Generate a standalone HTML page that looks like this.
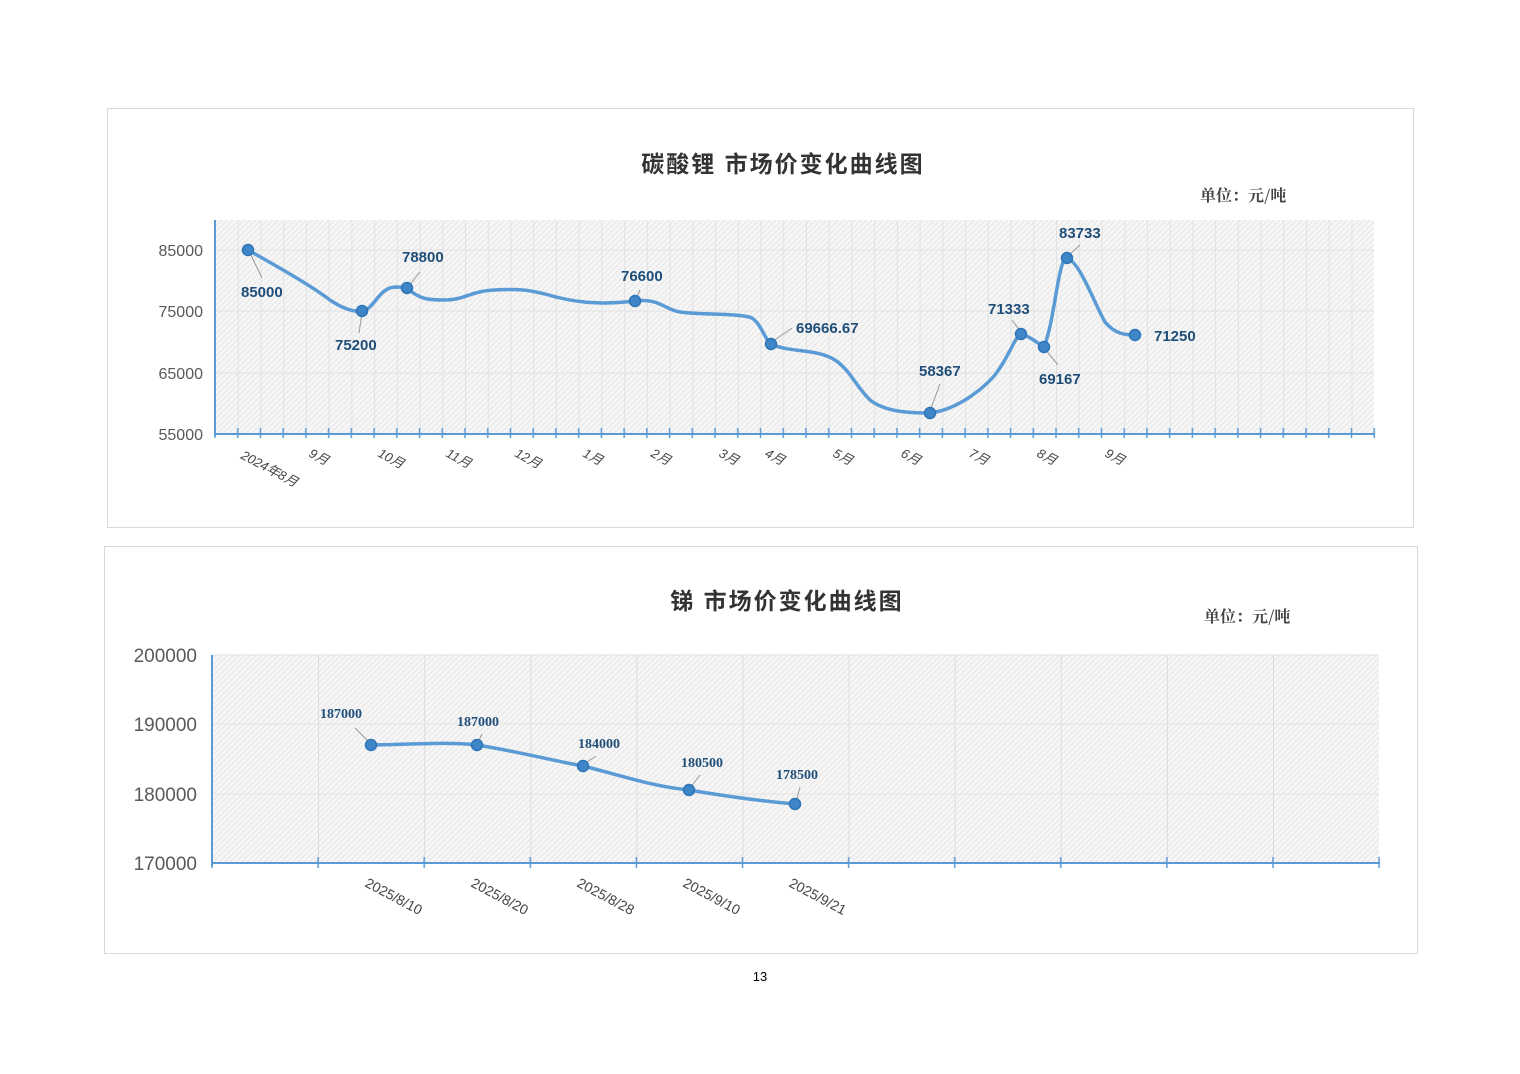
<!DOCTYPE html>
<html><head><meta charset="utf-8"><style>
html,body{margin:0;padding:0;background:#fff;}
svg{display:block;font-family:"Liberation Sans","Noto Sans CJK SC",sans-serif;}
</style></head><body>
<svg width="1520" height="1074" viewBox="0 0 1520 1074" xmlns="http://www.w3.org/2000/svg">
<defs>
<pattern id="hatch" patternUnits="userSpaceOnUse" width="4" height="4" patternTransform="rotate(45)">
<rect width="4" height="4" fill="#f6f6f6"/><line x1="0" y1="0" x2="0" y2="4" stroke="#dedede" stroke-width="1.3"/>
</pattern>
<pattern id="vg1" patternUnits="userSpaceOnUse" x="215" y="0" width="22.73" height="1074">
<line x1="0.5" y1="0" x2="0.5" y2="1074" stroke="#e2e2e2" stroke-width="1"/>
</pattern>
<pattern id="tk1" patternUnits="userSpaceOnUse" x="214" y="0" width="22.73" height="1074">
<line x1="1" y1="0" x2="1" y2="1074" stroke="#5b9bd5" stroke-width="1.5"/>
</pattern>
<pattern id="vg2" patternUnits="userSpaceOnUse" x="212" y="0" width="106.1" height="1074">
<line x1="0.5" y1="0" x2="0.5" y2="1074" stroke="#dcdcdc" stroke-width="1"/>
</pattern>
<pattern id="tk2" patternUnits="userSpaceOnUse" x="211" y="0" width="106.1" height="1074">
<line x1="1" y1="0" x2="1" y2="1074" stroke="#5b9bd5" stroke-width="1.5"/>
</pattern>
</defs>

<!-- Chart 1 -->
<rect x="107.5" y="108.5" width="1306" height="419" fill="#fff" stroke="#d9d9d9"/>
<text x="783" y="172" font-size="23" font-weight="bold" text-anchor="middle" fill="#333" letter-spacing="2">碳酸锂 市场价变化曲线图</text>
<text x="1200" y="201" font-size="16" font-weight="bold" fill="#444" font-family="'Noto Serif CJK SC',serif">单位：元/吨</text>
<rect x="215" y="220" width="1159" height="214" fill="url(#hatch)"/>
<rect x="215" y="220" width="1159" height="214" fill="url(#vg1)"/>
<g stroke="#e3e3e3" stroke-width="1">
<line x1="215" y1="250" x2="1374" y2="250"/><line x1="215" y1="311" x2="1374" y2="311"/><line x1="215" y1="373" x2="1374" y2="373"/>
</g>
<line x1="215" y1="220" x2="215" y2="436" stroke="#5b9bd5" stroke-width="2"/>
<line x1="214" y1="434" x2="1375" y2="434" stroke="#5b9bd5" stroke-width="2"/>
<rect x="214" y="428" width="1162" height="10" fill="url(#tk1)"/>
<g fill="#595959" font-size="16" text-anchor="end">
<text x="203" y="256">85000</text><text x="203" y="317">75000</text><text x="203" y="379">65000</text><text x="203" y="440">55000</text>
</g>
<g fill="#444" font-size="13" font-style="italic">
<text transform="translate(240,458) rotate(28)">2024年8月</text>
<text transform="translate(308,456) rotate(28)">9月</text>
<text transform="translate(377,456) rotate(28)">10月</text>
<text transform="translate(445,456) rotate(28)">11月</text>
<text transform="translate(514,456) rotate(28)">12月</text>
<text transform="translate(582,456) rotate(28)">1月</text>
<text transform="translate(650,456) rotate(28)">2月</text>
<text transform="translate(718,456) rotate(28)">3月</text>
<text transform="translate(764,456) rotate(28)">4月</text>
<text transform="translate(832,456) rotate(28)">5月</text>
<text transform="translate(900,456) rotate(28)">6月</text>
<text transform="translate(968,456) rotate(28)">7月</text>
<text transform="translate(1036,456) rotate(28)">8月</text>
<text transform="translate(1104,456) rotate(28)">9月</text>
</g>
<path d="M248,250 C280,268 310,285 330,300 C345,310 355,312 362,311 C375,309 378,288 395,287 C402,287 404,287 407,288 C420,300 430,300 445,300 C465,300 470,291 495,290 C515,289 525,289 545,294 C575,303 600,305 635,301 C660,298 665,310 680,312 C700,315 740,313 752,318 C762,325 765,340 771,344 C790,353 815,348 835,360 C850,370 855,385 870,400 C885,412 910,413 930,413 C955,410 980,392 995,375 C1010,355 1013,340 1021,334 C1030,336 1040,345 1044,347 C1055,320 1058,258 1067,258 C1080,262 1095,305 1105,322 C1115,334 1125,335 1135,335" fill="none" stroke="#5b9bd5" stroke-width="3.5" stroke-linecap="round"/>
<g stroke="#999" stroke-width="1">
<line x1="250" y1="253" x2="262" y2="278"/><line x1="362" y1="313" x2="359" y2="333"/><line x1="408" y1="287" x2="420" y2="272"/>
<line x1="636" y1="299" x2="640" y2="290"/><line x1="772" y1="342" x2="792" y2="328"/><line x1="930" y1="411" x2="940" y2="384"/>
<line x1="1021" y1="332" x2="1012" y2="320"/><line x1="1045" y1="349" x2="1058" y2="365"/><line x1="1068" y1="256" x2="1080" y2="245"/>
</g>
<g stroke="#2e75b6" stroke-width="1.5" fill="#3f86c9">
<circle cx="248" cy="250" r="5.5"/><circle cx="362" cy="311" r="5.5"/><circle cx="407" cy="288" r="5.5"/>
<circle cx="635" cy="301" r="5.5"/><circle cx="771" cy="344" r="5.5"/><circle cx="930" cy="413" r="5.5"/>
<circle cx="1021" cy="334" r="5.5"/><circle cx="1044" cy="347" r="5.5"/><circle cx="1067" cy="258" r="5.5"/>
<circle cx="1135" cy="335" r="5.5"/>
</g>
<g fill="#1f4e79" font-size="15" font-weight="bold">
<text x="241" y="297">85000</text><text x="335" y="350">75200</text><text x="402" y="262">78800</text>
<text x="621" y="281">76600</text><text x="796" y="333">69666.67</text><text x="919" y="376">58367</text>
<text x="988" y="314">71333</text><text x="1039" y="384">69167</text><text x="1059" y="238">83733</text>
<text x="1154" y="341">71250</text>
</g>

<!-- Chart 2 -->
<rect x="104.5" y="546.5" width="1313" height="407" fill="#fff" stroke="#d9d9d9"/>
<text x="787" y="609" font-size="23" font-weight="bold" text-anchor="middle" fill="#333" letter-spacing="2">锑  市场价变化曲线图</text>
<text x="1204" y="622" font-size="16" font-weight="bold" fill="#444" font-family="'Noto Serif CJK SC',serif">单位：元/吨</text>
<rect x="212" y="655" width="1167" height="208" fill="url(#hatch)"/>
<rect x="212" y="655" width="1167" height="208" fill="url(#vg2)"/>
<g stroke="#e3e3e3" stroke-width="1">
<line x1="212" y1="655" x2="1379" y2="655"/><line x1="212" y1="724" x2="1379" y2="724"/><line x1="212" y1="794" x2="1379" y2="794"/>
</g>
<line x1="212" y1="655" x2="212" y2="866" stroke="#5b9bd5" stroke-width="2"/>
<line x1="211" y1="863" x2="1380" y2="863" stroke="#5b9bd5" stroke-width="2"/>
<rect x="211" y="857" width="1170" height="11" fill="url(#tk2)"/>
<g fill="#595959" font-size="19" text-anchor="end">
<text x="197" y="662">200000</text><text x="197" y="731">190000</text><text x="197" y="801">180000</text><text x="197" y="870">170000</text>
</g>
<g fill="#444" font-size="14">
<text transform="translate(364,886) rotate(28)">2025/8/10</text>
<text transform="translate(470,886) rotate(28)">2025/8/20</text>
<text transform="translate(576,886) rotate(28)">2025/8/28</text>
<text transform="translate(682,886) rotate(28)">2025/9/10</text>
<text transform="translate(788,886) rotate(28)">2025/9/21</text>
</g>
<path d="M371,745 C420,744 450,742 477,745 C520,752 550,760 583,766 C620,775 650,786 689,790 C730,797 760,801 795,804" fill="none" stroke="#5b9bd5" stroke-width="3.5" stroke-linecap="round"/>
<g stroke="#999" stroke-width="1">
<line x1="370" y1="743" x2="355" y2="728"/><line x1="478" y1="743" x2="482" y2="734"/><line x1="584" y1="764" x2="596" y2="756"/>
<line x1="690" y1="788" x2="700" y2="775"/><line x1="796" y1="802" x2="800" y2="787"/>
</g>
<g stroke="#2e75b6" stroke-width="1.5" fill="#3f86c9">
<circle cx="371" cy="745" r="5.5"/><circle cx="477" cy="745" r="5.5"/><circle cx="583" cy="766" r="5.5"/><circle cx="689" cy="790" r="5.5"/><circle cx="795" cy="804" r="5.5"/>
</g>
<g fill="#1f4e79" font-size="14" font-weight="bold" font-family="'Liberation Serif',serif">
<text x="320" y="718">187000</text><text x="457" y="726">187000</text><text x="578" y="748">184000</text>
<text x="681" y="767">180500</text><text x="776" y="779">178500</text>
</g>

<text x="760" y="981" font-size="13" text-anchor="middle" fill="#000">13</text>
</svg>
</body></html>
